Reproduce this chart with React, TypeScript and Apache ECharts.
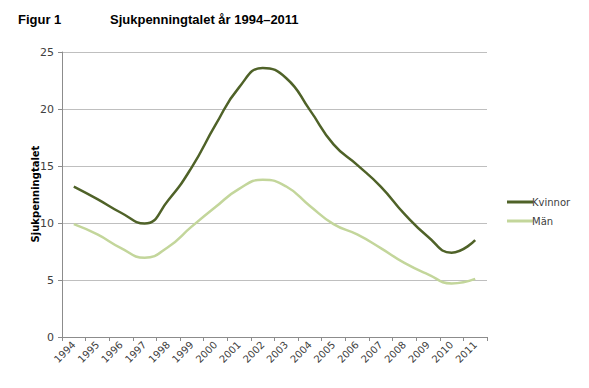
import React, { useEffect, useRef } from "react";
import * as echarts from "echarts";

const years = ["1994","1995","1996","1997","1998","1999","2000","2001","2002","2003","2004","2005","2006","2007","2008","2009","2010","2011"];
const kvinnor = [13.2, 12.1, 10.9, 9.95, 12.0, 14.9, 18.6, 21.9, 23.6, 22.7, 19.9, 16.9, 15.1, 13.2, 10.8, 8.8, 7.4, 8.5];
const man = [9.9, 9.0, 7.8, 6.95, 7.9, 9.7, 11.4, 13.0, 13.8, 13.2, 11.5, 9.9, 9.0, 7.8, 6.5, 5.5, 4.7, 5.1];
const yTicks = [0, 5, 10, 15, 20, 25];

export default function App() {
  const ref = useRef<HTMLDivElement>(null);
  useEffect(() => {
    if (!ref.current) return;
    const chart = echarts.init(ref.current, undefined, { renderer: "svg" });
    chart.setOption({
      animation: false,
      backgroundColor: "#ffffff",
      textStyle: { fontFamily: "Liberation Sans, Arial, sans-serif" },
      graphic: [
        { type: "text", left: 18, top: 13, style: { text: "Figur 1", font: "bold 13px 'Liberation Sans', Arial, sans-serif", fill: "#000" } },
        { type: "text", left: 110, top: 13, style: { text: "Sjukpenningtalet år 1994–2011", font: "bold 13px 'Liberation Sans', Arial, sans-serif", fill: "#000" } },
        {
          type: "text",
          x: 35,
          y: 194,
          rotation: Math.PI / 2,
          style: {
            text: "Sjukpenningtalet",
            font: "bold 10px 'DejaVu Sans', Verdana, sans-serif",
            fill: "#000",
            align: "center",
            verticalAlign: "middle",
          },
        },
      ],
      legend: {
        orient: "vertical",
        left: 502,
        top: 192,
        itemWidth: 26,
        itemHeight: 3,
        itemGap: 9,
        icon: "rect",
        textStyle: { fontSize: 10, color: "#404040", padding: [0, 0, 0, -6], fontFamily: "DejaVu Sans, Verdana, sans-serif" },
        data: ["Kvinnor", "Män"],
      },
      grid: { left: 62, right: 102, top: 52, bottom: 51, containLabel: false },
      xAxis: {
        type: "category",
        data: years,
        boundaryGap: true,
        axisLine: { lineStyle: { color: "#8c8c8c", width: 1 } },
        axisTick: { show: true, length: 4, lineStyle: { color: "#8c8c8c" } },
        axisLabel: { rotate: 45, fontSize: 10, color: "#404040", margin: 6, interval: 0, fontFamily: "DejaVu Sans, Verdana, sans-serif" },
      },
      yAxis: {
        type: "value",
        min: yTicks[0],
        max: yTicks[yTicks.length - 1],
        interval: 5,
        axisLine: { show: true, lineStyle: { color: "#8c8c8c", width: 1 } },
        axisTick: { show: true, length: 4, lineStyle: { color: "#8c8c8c" } },
        axisLabel: { fontSize: 11, color: "#404040", margin: 8, fontFamily: "DejaVu Sans, Verdana, sans-serif" },
        splitLine: { lineStyle: { color: "#bfbfbf", width: 1 } },
      },
      series: [
        {
          name: "Kvinnor",
          type: "line",
          data: kvinnor,
          smooth: 0.5,
          symbol: "none",
          lineStyle: { color: "#4f6228", width: 2.5 },
          itemStyle: { color: "#4f6228" },
        },
        {
          name: "Män",
          type: "line",
          data: man,
          smooth: 0.5,
          symbol: "none",
          lineStyle: { color: "#c3d69b", width: 2.5 },
          itemStyle: { color: "#c3d69b" },
        },
      ],
    });
    return () => chart.dispose();
  }, []);
  return <div ref={ref} style={{ width: 589, height: 388, position: "absolute", left: 0, top: 0 }} />;
}
